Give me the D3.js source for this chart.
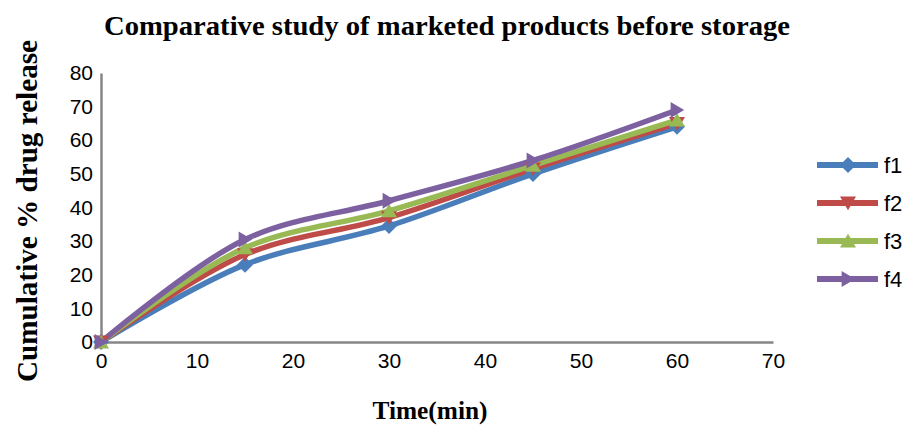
<!DOCTYPE html>
<html>
<head>
<meta charset="utf-8">
<script src="https://cdn.jsdelivr.net/npm/d3@7"></script>
<style>
  html, body { margin: 0; padding: 0; background: #fff; }
  svg { display: block; }
</style>
</head>
<body>
<svg id="chart" width="910" height="427"></svg>
<script>
// Sampling times (min)
const times = [0, 15, 30, 45, 60];
// Cumulative % drug release for each marketed product
const f1 = [0, 23, 34.5, 50, 64];
const f2 = [0, 26, 37, 51.5, 65];
const f3 = [0, 28, 39, 52.5, 66];
const f4 = [0, 30.5, 42, 54, 69];
const seriesNames = ["f1", "f2", "f3", "f4"];
const xTicks = [0, 10, 20, 30, 40, 50, 60, 70];
const yTicks = [0, 10, 20, 30, 40, 50, 60, 70, 80];

const series = [
  { name: "f1", values: f1, color: "#4a7ebb", marker: "diamond" },
  { name: "f2", values: f2, color: "#be4b48", marker: "down" },
  { name: "f3", values: f3, color: "#98b954", marker: "up" },
  { name: "f4", values: f4, color: "#7d60a0", marker: "right" }
];

const svg = d3.select("#chart");
const x = d3.scaleLinear().domain([0, 70]).range([101, 773]);
const y = d3.scaleLinear().domain([0, 80]).range([342, 73]);

const serif = "Liberation Serif, Times New Roman, serif";
const sans = "Liberation Sans, Arial, sans-serif";

// Title
svg.append("text")
  .attr("x", 447).attr("y", 35)
  .attr("text-anchor", "middle")
  .attr("font-family", serif)
  .attr("font-weight", "bold").attr("font-size", 27)
  .attr("textLength", 686).attr("lengthAdjust", "spacingAndGlyphs")
  .text("Comparative study of marketed products before storage");

// Axis titles
svg.append("text")
  .attr("transform", "translate(37,211) rotate(-90)")
  .attr("text-anchor", "middle")
  .attr("font-family", serif)
  .attr("font-weight", "bold").attr("font-size", 29)
  .attr("textLength", 342).attr("lengthAdjust", "spacingAndGlyphs")
  .text("Cumulative % drug release");

svg.append("text")
  .attr("x", 430).attr("y", 419)
  .attr("text-anchor", "middle")
  .attr("font-family", serif)
  .attr("font-weight", "bold").attr("font-size", 25)
  .attr("textLength", 115).attr("lengthAdjust", "spacingAndGlyphs")
  .text("Time(min)");

// Axes
const axisColor = "#868686";
const yAxis = svg.append("g")
  .attr("transform", `translate(${x(0)},0)`)
  .call(d3.axisLeft(y).tickValues(yTicks).tickSize(0).tickPadding(8).tickFormat(d3.format("d")));
const xAxis = svg.append("g")
  .attr("transform", `translate(0,${y(0)})`)
  .call(d3.axisBottom(x).tickValues(xTicks).tickSize(0).tickPadding(11).tickFormat(d3.format("d")));
[xAxis, yAxis].forEach(g => {
  g.select(".domain").attr("stroke", axisColor).attr("stroke-width", 2.5);
  g.selectAll("text")
    .attr("font-family", sans)
    .attr("font-size", 21).attr("fill", "#000");
});

// Marker shapes
function markerPath(type, s) {
  switch (type) {
    case "diamond": return `M0,${-s}L${s},0L0,${s}L${-s},0Z`;
    case "down": return `M${-s},${-s * 0.8}L${s},${-s * 0.8}L0,${s * 0.9}Z`;
    case "up": return `M${-s},${s * 0.8}L${s},${s * 0.8}L0,${-s * 0.9}Z`;
    case "right": return `M${-s * 0.8},${-s}L${s * 0.9},0L${-s * 0.8},${s}Z`;
  }
}

const line = d3.line()
  .x((d, i) => x(times[i]))
  .y(d => y(d))
  .curve(d3.curveCatmullRom.alpha(0.5));

const plot = svg.append("g");
series.forEach(s => {
  plot.append("path")
    .attr("d", line(s.values))
    .attr("fill", "none")
    .attr("stroke", s.color)
    .attr("stroke-width", 5.5)
    .attr("stroke-linejoin", "round");
});
series.forEach(s => {
  plot.selectAll(null)
    .data(s.values)
    .join("path")
    .attr("transform", (d, i) => `translate(${x(times[i])},${y(d)})`)
    .attr("d", markerPath(s.marker, 8))
    .attr("fill", s.color);
});

// Legend
const legend = svg.append("g");
series.forEach((s, i) => {
  const ly = 165 + i * 38;
  legend.append("line")
    .attr("x1", 817).attr("x2", 878)
    .attr("y1", ly).attr("y2", ly)
    .attr("stroke", s.color).attr("stroke-width", 6);
  legend.append("path")
    .attr("transform", `translate(848,${ly})`)
    .attr("d", markerPath(s.marker, 8))
    .attr("fill", s.color);
  legend.append("text")
    .attr("x", 884).attr("y", ly + 8)
    .attr("font-family", sans)
    .attr("font-size", 22)
    .text(seriesNames[i]);
});
</script>
</body>
</html>
